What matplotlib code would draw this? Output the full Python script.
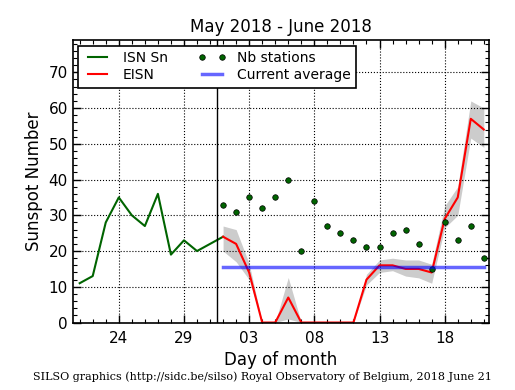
"""SILSO daily sunspot number plot, May 2018 - June 2018."""

import matplotlib
matplotlib.use("Agg")
import matplotlib.pyplot as plt
import matplotlib.dates as mdates
from matplotlib.ticker import MultipleLocator
import pandas as pd

# ISN Sn (definitive daily), May 21 - June 1
isn_days = pd.date_range("2018-05-21", "2018-06-01")
isn = [11, 13, 28, 35, 30, 27, 36, 19, 23, 20, 22, 24]

# EISN (estimated), June 1 - June 21
eisn_days = pd.date_range("2018-06-01", "2018-06-21")
eisn = [24, 22, 14, 0, 0, 7, 0, 0, 0, 0, 0, 12, 16, 16, 15, 15, 14, 29, 35, 57, 54]
eisn_hi = [27, 26, 16.5, 0, 0, 12.6, 0, 0, 0, 0, 0, 13.5, 17.5, 18, 17.5, 17.5, 16.3, 32.6, 38, 62, 60]
eisn_lo = [20, 17, 12, 0, 0, 1, 0, 0, 0, 0, 0, 10.5, 14, 14.5, 13, 12.5, 11, 26.5, 30, 51.6, 49]

# number of stations
nb_stations = [33, 31, 35, 32, 35, 40, 20, 34, 27, 25, 23, 21, 21, 25, 26, 22, 15, 28, 23, 27, 18]

current_avg = 15.4
split_day = pd.Timestamp("2018-05-31 12:00")
tick_days = pd.to_datetime(["2018-05-24", "2018-05-29", "2018-06-03",
                            "2018-06-08", "2018-06-13", "2018-06-18"])


def main():
    fig = plt.figure(figsize=(5.15, 3.9), dpi=100)
    ax = fig.add_axes([0.141, 0.173, 0.809, 0.724])

    ax.fill_between(eisn_days, eisn_lo, eisn_hi, color="grey", alpha=0.4, lw=0)
    ax.plot(isn_days, isn, color="#006400", lw=1.5, label="ISN Sn")
    ax.plot(eisn_days, eisn, color="red", lw=1.5, label="EISN")
    ax.plot(eisn_days, nb_stations, "o", color="#006400", mec="black", mew=0.5,
            ms=4, label="Nb stations")
    ax.plot([eisn_days[0], eisn_days[-1]], [current_avg, current_avg],
            color="blue", alpha=0.6, lw=2.5, label="Current average")
    ax.axvline(split_day, color="black", lw=1)

    ax.set_xlim(isn_days[0] - pd.Timedelta(hours=13), eisn_days[-1] + pd.Timedelta(hours=10))
    ax.set_ylim(0, 79)
    ax.set_xticks(tick_days)
    ax.xaxis.set_major_formatter(mdates.DateFormatter("%d"))
    ax.xaxis.set_minor_locator(mdates.DayLocator())
    ax.yaxis.set_major_locator(MultipleLocator(10))
    ax.yaxis.set_minor_locator(MultipleLocator(2))
    ax.tick_params(which="both", direction="in", top=True, right=True, labelsize=11)
    ax.tick_params(which="major", length=6, width=1)
    ax.tick_params(which="minor", length=3, width=0.8)
    ax.tick_params(axis="x", pad=6)
    for s in ax.spines.values():
        s.set_linewidth(1.2)
    ax.grid(True, which="major", color="black", linestyle=":", lw=0.8)

    ax.set_title("May 2018 - June 2018", fontsize=12)
    ax.set_xlabel("Day of month", fontsize=12)
    ax.set_ylabel("Sunspot Number", fontsize=12)

    leg = ax.legend(loc="upper left", ncol=2, fontsize=10, numpoints=2,
                    handlelength=2.0, handletextpad=0.8, columnspacing=2.2,
                    fancybox=False, framealpha=1, borderaxespad=0.4,
                    borderpad=0.4, labelspacing=0.2)
    leg.get_frame().set_edgecolor("black")
    leg.get_frame().set_linewidth(1.2)

    fig.text(0.51, 0.035, "SILSO graphics (http://sidc.be/silso) Royal Observatory of Belgium, 2018 June 21",
             ha="center", va="center", fontsize=8, family="DejaVu Serif")

    fig.savefig("out.png", dpi=100)
    plt.close(fig)


if __name__ == "__main__":
    main()
